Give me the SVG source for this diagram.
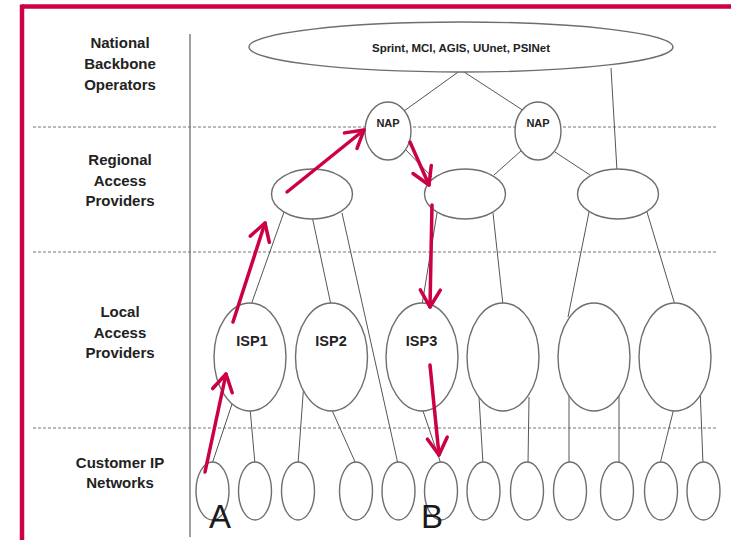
<svg xmlns="http://www.w3.org/2000/svg" width="731" height="540" viewBox="0 0 731 540">
<defs>
<style>
.lbl{font-family:"Liberation Sans",Arial,sans-serif;font-weight:bold;font-size:15px;fill:#222;text-anchor:middle}
.nt{font-family:"Liberation Sans",Arial,sans-serif;font-weight:bold;fill:#222;text-anchor:middle}
.big{font-family:"Liberation Sans",Arial,sans-serif;font-size:33px;fill:#1a1a1a;text-anchor:middle}
.node{fill:#fff;stroke:#6e6e6e;stroke-width:1.4}
.conn line{stroke:#555;stroke-width:1}
.dash{stroke:#777;stroke-width:1.2;stroke-dasharray:3,2}
.red line{stroke:#CC0047;stroke-width:3.5;stroke-linecap:round;marker-end:url(#ah)}
</style>
<marker id="ah" markerUnits="userSpaceOnUse" orient="auto" refX="0" refY="0" markerWidth="40" markerHeight="40" viewBox="-20 -20 40 40" overflow="visible">
<path d="M-17,-10 L0,0 L-17,10" fill="none" stroke="#CC0047" stroke-width="3.5" stroke-linecap="round" stroke-linejoin="round"/>
</marker>
</defs>
<rect width="731" height="540" fill="#fff"/>
<!-- red frame -->
<g id="frame" stroke="#CC0047" stroke-width="4.5" fill="none">
<line x1="22" y1="6.5" x2="731" y2="6.5"/>
<line x1="22" y1="4.5" x2="22" y2="540"/>
</g>
<!-- layer separators -->
<g id="layers">
<line x1="190" y1="34" x2="190" y2="537" stroke="#777" stroke-width="1.4"/>
<line class="dash" x1="33" y1="127" x2="718" y2="127"/>
<line class="dash" x1="33" y1="252" x2="718" y2="252"/>
<line class="dash" x1="33" y1="428" x2="718" y2="428"/>
</g>
<g id="layer-labels">
<text class="lbl" x="120" y="48">National</text>
<text class="lbl" x="120" y="69">Backbone</text>
<text class="lbl" x="120" y="90">Operators</text>
<text class="lbl" x="120" y="165">Regional</text>
<text class="lbl" x="120" y="186">Access</text>
<text class="lbl" x="120" y="206">Providers</text>
<text class="lbl" x="120" y="317">Local</text>
<text class="lbl" x="120" y="338">Access</text>
<text class="lbl" x="120" y="358">Providers</text>
<text class="lbl" x="120" y="468">Customer IP</text>
<text class="lbl" x="120" y="488">Networks</text>
</g>
<!-- connectors -->
<g id="connectors" class="conn">
<line x1="461" y1="70" x2="404" y2="111"/>
<line x1="461" y1="70" x2="524" y2="111"/>
<line x1="611" y1="68" x2="617" y2="171"/>
<line x1="404" y1="148" x2="432" y2="177"/>
<line x1="522" y1="150" x2="494" y2="175"/>
<line x1="555" y1="152" x2="590" y2="175"/>
<line x1="284" y1="212" x2="251" y2="305"/>
<line x1="312" y1="216" x2="331" y2="305"/>
<line x1="342" y1="213" x2="398" y2="464"/>
<line x1="437" y1="213" x2="422" y2="305"/>
<line x1="493" y1="213" x2="503" y2="305"/>
<line x1="589" y1="212" x2="568" y2="317"/>
<line x1="647" y1="212" x2="675" y2="305"/>
<line x1="232" y1="404" x2="212" y2="464"/>
<line x1="250" y1="408" x2="255" y2="464"/>
<line x1="305" y1="368" x2="298" y2="464"/>
<line x1="331" y1="408" x2="356" y2="464"/>
<line x1="422" y1="408" x2="441" y2="464"/>
<line x1="479" y1="397" x2="483" y2="464"/>
<line x1="529" y1="397" x2="528" y2="464"/>
<line x1="569" y1="390" x2="569" y2="464"/>
<line x1="619" y1="390" x2="619" y2="464"/>
<line x1="674" y1="408" x2="660" y2="464"/>
<line x1="700" y1="387" x2="703" y2="464"/>
</g>
<!-- national backbone -->
<g id="backbone">
<ellipse class="node" cx="461" cy="47" rx="212" ry="25"/>
<text class="nt" x="461" y="52" font-size="11" textLength="178" lengthAdjust="spacingAndGlyphs">Sprint, MCI, AGIS, UUnet, PSINet</text>
</g>
<g id="nap1"><ellipse class="node" cx="388" cy="131" rx="23" ry="29"/><text class="nt" x="388" y="127" font-size="11">NAP</text></g>
<g id="nap2"><ellipse class="node" cx="538" cy="131" rx="23" ry="29"/><text class="nt" x="538" y="127" font-size="11">NAP</text></g>
<!-- regional -->
<g id="reg1"><ellipse class="node" cx="312" cy="194" rx="40.5" ry="25"/></g>
<g id="reg2"><ellipse class="node" cx="465" cy="194" rx="40.5" ry="25"/></g>
<g id="reg3"><ellipse class="node" cx="618" cy="194" rx="40.5" ry="25"/></g>
<!-- local -->
<g id="isp1"><ellipse class="node" cx="250" cy="357" rx="36" ry="54"/><text class="nt" x="252" y="346" font-size="14.5">ISP1</text></g>
<g id="isp2"><ellipse class="node" cx="331.5" cy="357" rx="36" ry="54"/><text class="nt" x="331" y="346" font-size="14.5">ISP2</text></g>
<g id="isp3"><ellipse class="node" cx="422" cy="357" rx="36" ry="54"/><text class="nt" x="421.5" y="346" font-size="14.5">ISP3</text></g>
<g id="isp4"><ellipse class="node" cx="503" cy="357" rx="36" ry="54"/></g>
<g id="isp5"><ellipse class="node" cx="594" cy="357" rx="36" ry="54"/></g>
<g id="isp6"><ellipse class="node" cx="675" cy="357" rx="36" ry="54"/></g>
<!-- customers -->
<g id="c1"><ellipse class="node" cx="212.5" cy="491" rx="16.5" ry="29"/></g>
<g id="c2"><ellipse class="node" cx="255" cy="491" rx="16.5" ry="29"/></g>
<g id="c3"><ellipse class="node" cx="298" cy="491" rx="16.5" ry="29"/></g>
<g id="c4"><ellipse class="node" cx="356" cy="491" rx="16.5" ry="29"/></g>
<g id="c5"><ellipse class="node" cx="398.5" cy="491" rx="16.5" ry="29"/></g>
<g id="c6"><ellipse class="node" cx="441" cy="491" rx="16.5" ry="29"/></g>
<g id="c7"><ellipse class="node" cx="483.5" cy="491" rx="16.5" ry="29"/></g>
<g id="c8"><ellipse class="node" cx="527" cy="491" rx="16.5" ry="29"/></g>
<g id="c9"><ellipse class="node" cx="570" cy="491" rx="16.5" ry="29"/></g>
<g id="c10"><ellipse class="node" cx="617" cy="491" rx="16.5" ry="29"/></g>
<g id="c11"><ellipse class="node" cx="661" cy="491" rx="16.5" ry="29"/></g>
<g id="c12"><ellipse class="node" cx="703.5" cy="491" rx="16.5" ry="29"/></g>
<!-- path arrows -->
<g id="path-arrows" class="red">
<line x1="205" y1="472" x2="226" y2="374"/>
<line x1="233" y1="322" x2="265" y2="223"/>
<line x1="287" y1="192" x2="364" y2="130"/>
<line x1="410" y1="142" x2="429" y2="185"/>
<line x1="432" y1="205" x2="430" y2="307"/>
<line x1="430" y1="365" x2="439" y2="455"/>
</g>
<g id="endpoints">
<text class="big" x="220" y="528">A</text>
<text class="big" x="432" y="528">B</text>
</g>
</svg>
